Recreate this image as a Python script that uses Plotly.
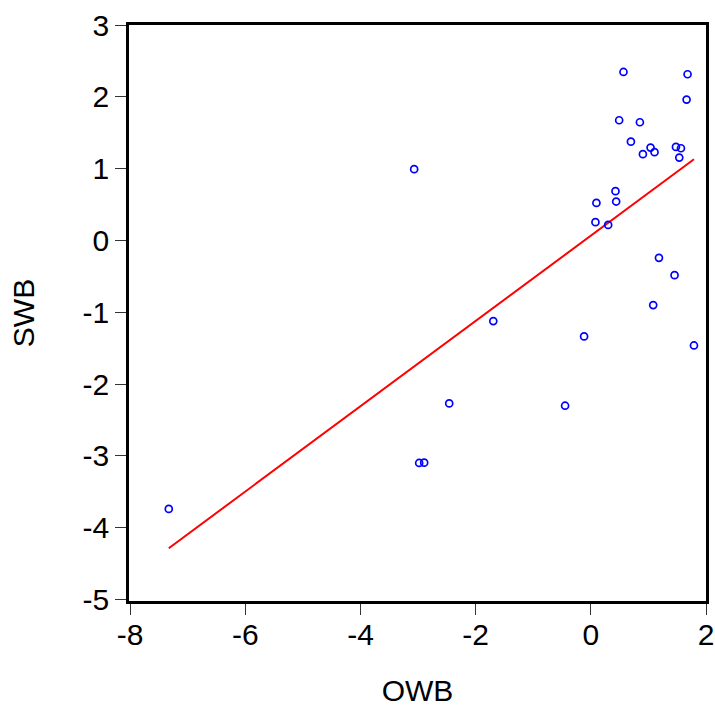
import plotly.graph_objects as go

owb = [0.567, 1.68, 1.663, 0.492, 0.852, 0.696, 1.037, 0.904, 1.106, 1.478,
       1.565, 1.536, 0.428, 0.097, 0.44, 0.080, 0.301, 1.183, 1.454, 1.083,
       -0.117, 1.791, -3.068, -1.694, -2.459, -0.447, -2.981, -2.894, -7.329]
swb = [2.346, 2.314, 1.961, 1.674, 1.646, 1.376, 1.293, 1.201, 1.229, 1.303,
       1.284, 1.154, 0.686, 0.523, 0.542, 0.255, 0.217, -0.242, -0.483, -0.900,
       -1.336, -1.462, 0.993, -1.123, -2.269, -2.301, -3.098, -3.094, -3.738]

fit_x = [-7.329, 1.791]
fit_y = [-4.285, 1.13]

x_ticks = [-8, -6, -4, -2, 0, 2]
x_labels = ["-8", "-6", "-4", "-2", "0", "2"]
y_ticks = [-5, -4, -3, -2, -1, 0, 1, 2, 3]
y_labels = ["-5", "-4", "-3", "-2", "-1", "0", "1", "2", "3"]

fig = go.Figure()
fig.add_trace(go.Scatter(x=fit_x, y=fit_y, mode="lines",
                         line=dict(color="#FF0000", width=2), showlegend=False))
fig.add_trace(go.Scatter(x=owb, y=swb, mode="markers",
                         marker=dict(symbol="circle-open", size=7,
                                     line=dict(color="#0000FF", width=1.7),
                                     color="#0000FF"),
                         showlegend=False))

font = dict(family="Liberation Sans, Arial, sans-serif", size=30, color="#000000")

fig.update_layout(
    width=715, height=711,
    margin=dict(l=129, r=9, t=25, b=110),
    paper_bgcolor="white", plot_bgcolor="white",
    font=font,
    xaxis=dict(range=[-8.02, 2.0], tickvals=x_ticks, ticktext=x_labels,
               ticks="outside", ticklen=11, automargin=False,
               tickwidth=1, tickcolor="#333333", showgrid=False, zeroline=False,
               showline=True, linecolor="black", linewidth=2.5, mirror=True,
               title=dict(text="OWB", font=font, standoff=31),
               ticklabelstandoff=-6),
    yaxis=dict(range=[-5.02, 3.0], tickvals=y_ticks, ticktext=y_labels,
               ticks="outside", ticklen=11, automargin=False,
               tickwidth=1, tickcolor="#333333", showgrid=False, zeroline=False,
               showline=True, linecolor="black", linewidth=2.5, mirror=True,
               title=dict(text="SWB", font=font, standoff=40),
               ticklabelstandoff=0),
)

fig.write_html(
    "out.html",
    config={"displayModeBar": False},
    post_script="document.body.style.margin='0';document.body.style.overflow='hidden';",
)
